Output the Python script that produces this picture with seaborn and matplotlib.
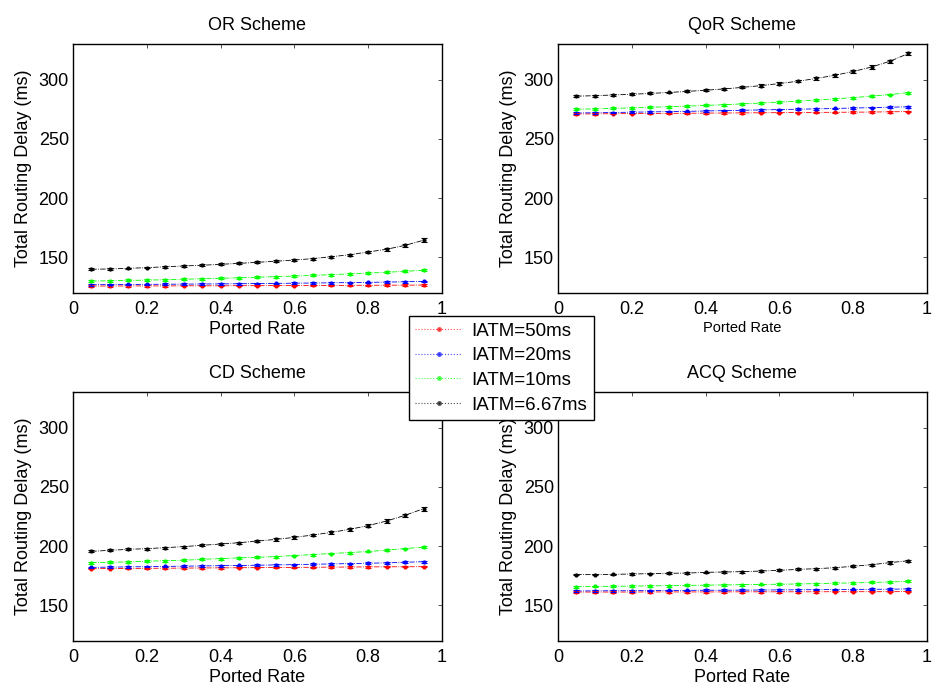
"""Total routing delay vs ported rate for four routing schemes (2x2 panels)."""

import matplotlib.pyplot as plt
import pandas as pd
import seaborn as sns
from matplotlib.lines import Line2D

# ported rate 0.05 .. 0.95
PORTED_RATE = [0.05, 0.10, 0.15, 0.20, 0.25, 0.30, 0.35, 0.40, 0.45, 0.50,
               0.55, 0.60, 0.65, 0.70, 0.75, 0.80, 0.85, 0.90, 0.95]

IATM_LABELS = ["IATM=50ms", "IATM=20ms", "IATM=10ms", "IATM=6.67ms"]
IATM_COLORS = ["#ff0000", "#0000ff", "#00ff00", "#000000"]

SCHEMES = ["OR Scheme", "QoR Scheme", "CD Scheme", "ACQ Scheme"]

# OR scheme
OR_50 = [125.9, 125.9, 126.0, 126.0, 126.0, 126.1, 126.1, 126.1, 126.2, 126.2,
         126.3, 126.3, 126.4, 126.4, 126.5, 126.5, 126.6, 126.6, 126.7]
OR_20 = [127.0, 127.1, 127.2, 127.3, 127.4, 127.5, 127.6, 127.7, 127.8, 128.0,
         128.1, 128.3, 128.4, 128.6, 128.8, 129.0, 129.2, 129.5, 129.8]
OR_10 = [130.1, 130.3, 130.6, 130.9, 131.2, 131.6, 132.0, 132.4, 132.8, 133.3,
         133.8, 134.3, 134.9, 135.5, 136.1, 136.8, 137.5, 138.3, 139.2]
OR_667 = [140.0, 140.3, 140.8, 141.4, 142.1, 142.8, 143.4, 144.2, 145.0, 145.9,
          146.8, 147.8, 149.0, 150.6, 152.3, 154.6, 156.9, 160.2, 164.5]

# QoR scheme
QOR_50 = [271.0, 271.1, 271.2, 271.3, 271.4, 271.5, 271.6, 271.7, 271.8, 271.9,
          272.0, 272.1, 272.2, 272.3, 272.4, 272.5, 272.6, 272.8, 273.0]
QOR_20 = [271.8, 272.0, 272.2, 272.5, 272.7, 273.0, 273.2, 273.5, 273.8, 274.1,
          274.4, 274.7, 275.0, 275.3, 275.6, 276.0, 276.3, 276.7, 277.0]
QOR_10 = [275.0, 275.3, 275.7, 276.1, 276.6, 277.1, 277.6, 278.2, 278.8, 279.5,
          280.2, 281.0, 281.8, 282.7, 283.7, 284.8, 286.0, 287.4, 289.0]
QOR_667 = [286.0, 286.4, 287.0, 287.6, 288.3, 289.1, 290.0, 291.0, 292.1, 293.4,
           294.9, 296.6, 298.6, 300.9, 303.6, 306.8, 310.6, 315.5, 322.0]

# CD scheme
CD_50 = [181.0, 181.1, 181.2, 181.3, 181.4, 181.5, 181.6, 181.7, 181.8, 181.9,
         182.0, 182.1, 182.2, 182.3, 182.4, 182.5, 182.6, 182.6, 182.7]
CD_20 = [182.1, 182.3, 182.5, 182.7, 182.9, 183.1, 183.3, 183.5, 183.7, 183.9,
         184.2, 184.4, 184.7, 185.0, 185.3, 185.6, 185.9, 186.4, 186.9]
CD_10 = [186.1, 186.4, 186.7, 187.2, 187.8, 188.1, 188.9, 189.5, 190.1, 190.6,
         191.2, 192.1, 192.9, 193.8, 194.6, 195.5, 196.6, 198.0, 199.1]
CD_667 = [195.6, 196.5, 197.3, 197.9, 198.7, 199.6, 200.7, 201.8, 202.9, 204.3,
          205.7, 207.4, 209.4, 211.6, 214.2, 217.3, 221.2, 226.0, 231.6]

# ACQ scheme
ACQ_50 = [161.3, 161.3, 161.3, 161.3, 161.4, 161.4, 161.4, 161.4, 161.4, 161.5,
          161.5, 161.5, 161.5, 161.5, 161.6, 161.6, 161.6, 161.6, 161.7]
ACQ_20 = [162.2, 162.3, 162.4, 162.4, 162.5, 162.6, 162.7, 162.8, 162.8, 162.9,
          163.0, 163.1, 163.2, 163.3, 163.4, 163.5, 163.6, 163.7, 163.9]
ACQ_10 = [165.8, 166.0, 166.1, 166.3, 166.5, 166.7, 166.9, 167.1, 167.3, 167.5,
          167.7, 167.9, 168.1, 168.4, 168.7, 169.0, 169.4, 169.8, 170.3]
ACQ_667 = [176.0, 176.0, 176.2, 176.5, 176.8, 177.1, 177.3, 177.9, 178.2, 178.5,
           179.0, 179.6, 180.4, 181.0, 181.8, 183.0, 184.4, 186.1, 187.7]

# half-width of the error bars, per IATM level
ERR_50 = 0.6
ERR_20 = 0.7
ERR_10 = 0.8
ERR_667_OR = [0.7, 0.7, 0.7, 0.7, 0.7, 0.8, 0.8, 0.8, 0.8, 0.8,
              0.9, 0.9, 0.9, 1.0, 1.0, 1.1, 1.1, 1.3, 1.5]
ERR_667_QOR = [0.8, 0.8, 0.8, 0.8, 0.8, 0.8, 0.9, 0.9, 0.9, 0.9,
               1.0, 1.0, 1.0, 1.1, 1.1, 1.2, 1.3, 1.4, 1.6]
ERR_667_CD = [0.8, 0.8, 0.8, 0.8, 0.8, 0.8, 0.9, 0.9, 0.9, 0.9,
              1.0, 1.0, 1.0, 1.1, 1.1, 1.2, 1.3, 1.4, 1.6]
ERR_667_ACQ = [0.7, 0.7, 0.7, 0.7, 0.7, 0.7, 0.7, 0.7, 0.8, 0.8,
               0.8, 0.8, 0.8, 0.8, 0.9, 0.9, 0.9, 1.0, 1.0]

SERIES = {
    "OR Scheme": [OR_50, OR_20, OR_10, OR_667],
    "QoR Scheme": [QOR_50, QOR_20, QOR_10, QOR_667],
    "CD Scheme": [CD_50, CD_20, CD_10, CD_667],
    "ACQ Scheme": [ACQ_50, ACQ_20, ACQ_10, ACQ_667],
}
ERRORS = {
    "OR Scheme": [ERR_50, ERR_20, ERR_10, ERR_667_OR],
    "QoR Scheme": [ERR_50, ERR_20, ERR_10, ERR_667_QOR],
    "CD Scheme": [ERR_50, ERR_20, ERR_10, ERR_667_CD],
    "ACQ Scheme": [ERR_50, ERR_20, ERR_10, ERR_667_ACQ],
}

X_TICKS = [0, 0.2, 0.4, 0.6, 0.8, 1]
X_TICK_LABELS = ["0", "0.2", "0.4", "0.6", "0.8", "1"]
Y_TICKS = [150, 200, 250, 300]

# axes rectangles in figure fractions (matlab-like 2x2 subplot grid)
AX_RECTS = [
    [0.0782, 0.579, 0.3955, 0.3578],
    [0.598, 0.579, 0.3955, 0.3578],
    [0.0782, 0.079, 0.3955, 0.3578],
    [0.598, 0.079, 0.3955, 0.3578],
]


def build_frame(scheme: str) -> pd.DataFrame:
    rows = []
    for label, values, err in zip(IATM_LABELS, SERIES[scheme], ERRORS[scheme]):
        errs = err if isinstance(err, list) else [err] * len(values)
        for x, y, e in zip(PORTED_RATE, values, errs):
            rows.append({"rate": x, "delay": y, "err": e, "iatm": label})
    return pd.DataFrame(rows)


def main() -> None:
    sns.set_theme(style="white")
    plt.rcParams["font.family"] = ["Liberation Sans", "DejaVu Sans"]
    plt.rcParams["xtick.direction"] = "in"
    plt.rcParams["ytick.direction"] = "in"

    fig = plt.figure(figsize=(9.33, 6.96), dpi=100)
    palette = dict(zip(IATM_LABELS, IATM_COLORS))

    for scheme, rect in zip(SCHEMES, AX_RECTS):
        ax = fig.add_axes(rect)
        df = build_frame(scheme)
        sns.lineplot(
            data=df, x="rate", y="delay", hue="iatm", palette=palette,
            hue_order=IATM_LABELS, linestyle="-.", linewidth=0.6,
            marker="o", markersize=3, markeredgewidth=0,
            legend=False, ax=ax,
        )
        for label in IATM_LABELS:
            sub = df[df["iatm"] == label]
            ax.errorbar(sub["rate"], sub["delay"], yerr=sub["err"], fmt="none",
                        ecolor=palette[label], elinewidth=0.8, capsize=2.2,
                        capthick=0.8)

        ax.set_xlim(0, 1)
        ax.set_ylim(120, 330)
        ax.set_xticks(X_TICKS)
        ax.set_xticklabels(X_TICK_LABELS)
        ax.set_yticks(Y_TICKS)
        ax.tick_params(axis="both", which="major", labelsize=13, length=3,
                       width=0.6, color="#333333", top=True, right=True,
                       labelcolor="black")
        ax.tick_params(axis="x", pad=6)
        ax.tick_params(axis="y", pad=3)
        for spine in ax.spines.values():
            spine.set_color("black")
            spine.set_linewidth(1.0)
            spine.set_visible(True)

        ax.set_title(scheme, fontsize=13, pad=10, color="black")
        xfs = 10.5 if scheme == "QoR Scheme" else 13
        ax.set_xlabel("Ported Rate", fontsize=xfs, labelpad=2, color="black")
        ax.set_ylabel("Total Routing Delay (ms)", fontsize=13, labelpad=5,
                      color="black")

    handles = [
        Line2D([0, 0.5, 1], [0, 0, 0], color=c, linestyle=":", linewidth=0.8,
               alpha=0.7, marker="o", markersize=3.5, markeredgewidth=0,
               markerfacecolor=c, markevery=[1])
        for c in IATM_COLORS
    ]
    leg = fig.legend(
        handles, IATM_LABELS, loc="upper left",
        bbox_to_anchor=(0.438, 0.546), fontsize=13.5, frameon=True,
        fancybox=False, edgecolor="black", framealpha=1,
        handlelength=2.5, borderpad=0.35, labelspacing=0.4,
        handletextpad=0.5, borderaxespad=0,
    )
    for text in leg.get_texts():
        text.set_color("black")
    leg.get_frame().set_linewidth(1.0)

    fig.savefig("out.png", dpi=100, facecolor="white")
    plt.close(fig)


if __name__ == "__main__":
    main()
